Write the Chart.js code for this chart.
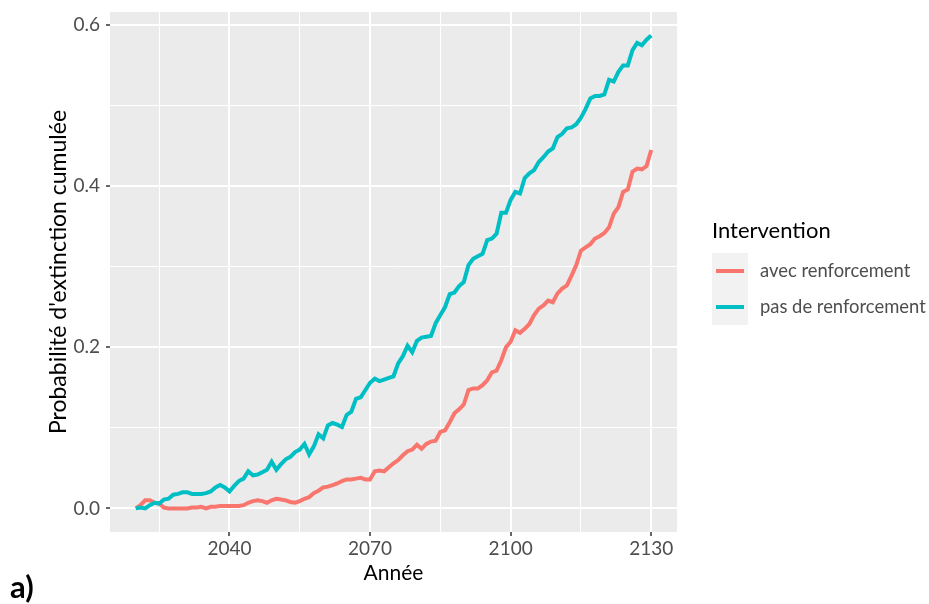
<!DOCTYPE html>
<html><head><meta charset="utf-8">
<script src="https://cdn.jsdelivr.net/npm/chart.js@4"></script>
<style>html,body{margin:0;padding:0;background:#fff}#wrap{width:929px;height:604px}</style>
</head><body><div id="wrap"><canvas id="c" width="929" height="604"></canvas></div>
<script>
const years = [2020,2021,2022,2023,2024,2025,2026,2027,2028,2029,
2030,2031,2032,2033,2034,2035,2036,2037,2038,2039,
2040,2041,2042,2043,2044,2045,2046,2047,2048,2049,
2050,2051,2052,2053,2054,2055,2056,2057,2058,2059,
2060,2061,2062,2063,2064,2065,2066,2067,2068,2069,
2070,2071,2072,2073,2074,2075,2076,2077,2078,2079,
2080,2081,2082,2083,2084,2085,2086,2087,2088,2089,
2090,2091,2092,2093,2094,2095,2096,2097,2098,2099,
2100,2101,2102,2103,2104,2105,2106,2107,2108,2109,
2110,2111,2112,2113,2114,2115,2116,2117,2118,2119,
2120,2121,2122,2123,2124,2125,2126,2127,2128,2129,2130];

const avecRenforcement = [0.000,0.004,0.010,0.010,0.007,0.006,0.001,0.000,0.000,0.000,
0.000,0.000,0.001,0.001,0.002,0.000,0.002,0.002,0.003,0.003,
0.003,0.003,0.003,0.004,0.007,0.009,0.010,0.009,0.007,0.010,
0.012,0.011,0.010,0.008,0.007,0.009,0.012,0.014,0.019,0.022,
0.026,0.027,0.029,0.031,0.034,0.036,0.036,0.037,0.038,0.036,
0.036,0.046,0.047,0.046,0.051,0.056,0.060,0.066,0.071,0.073,
0.079,0.074,0.080,0.083,0.084,0.095,0.097,0.107,0.118,0.123,
0.129,0.147,0.149,0.149,0.153,0.159,0.169,0.171,0.184,0.200,
0.207,0.221,0.218,0.223,0.229,0.240,0.248,0.252,0.258,0.256,
0.267,0.273,0.277,0.289,0.302,0.320,0.324,0.328,0.335,0.338,
0.342,0.349,0.366,0.374,0.393,0.396,0.418,0.422,0.421,0.425,0.445];

const pasDeRenforcement = [0.000,0.001,0.000,0.004,0.007,0.006,0.011,0.012,0.017,0.018,
0.020,0.020,0.018,0.018,0.018,0.019,0.021,0.026,0.029,0.026,
0.021,0.028,0.034,0.037,0.046,0.041,0.042,0.045,0.048,0.058,
0.048,0.055,0.061,0.064,0.070,0.073,0.080,0.067,0.077,0.092,
0.087,0.103,0.106,0.104,0.101,0.116,0.120,0.136,0.138,0.147,
0.156,0.161,0.158,0.160,0.162,0.164,0.180,0.189,0.202,0.194,
0.208,0.212,0.213,0.214,0.230,0.240,0.250,0.266,0.268,0.276,
0.281,0.302,0.310,0.313,0.316,0.333,0.335,0.341,0.367,0.367,
0.383,0.393,0.391,0.410,0.416,0.420,0.430,0.436,0.443,0.447,
0.461,0.465,0.472,0.473,0.477,0.485,0.496,0.509,0.512,0.512,
0.514,0.532,0.530,0.542,0.550,0.550,0.569,0.578,0.575,0.582,0.587];

const seriesLabels = ['avec renforcement', 'pas de renforcement'];
const xMajorTicks = [2040, 2070, 2100, 2130];
const xMinorTicks = [2025, 2055, 2085, 2115];
const yMajorTicks = [0, 0.2, 0.4, 0.6];
const yMinorTicks = [0.1, 0.3, 0.5];
const legendTitle = 'Intervention';
const xTitle = 'Année';
const yTitle = "Probabilité d'extinction cumulée";
const panelLabel = 'a)';

const FONT = 'Lato';
const RED = '#F8766D', TEAL = '#00BFC4';

const isMajor = (v, majors) => majors.some(m => Math.abs(m - v) < 1e-9);

const panelBg = {
  id: 'panelBg',
  beforeDraw(chart) {
    const {ctx, chartArea: a} = chart;
    ctx.save();
    ctx.fillStyle = '#EBEBEB';
    ctx.fillRect(a.left, a.top, a.right - a.left, a.bottom - a.top);
    ctx.restore();
  }
};

const customLegend = {
  id: 'customLegend',
  afterDraw(chart) {
    const ctx = chart.ctx;
    ctx.save();
    ctx.fillStyle = '#000';
    ctx.font = `22px ${FONT}`;
    ctx.textBaseline = 'middle';
    ctx.textAlign = 'left';
    ctx.fillText(legendTitle, 712, 231);
    ctx.fillStyle = '#F2F2F2';
    ctx.fillRect(712, 253, 36, 72);
    chart.data.datasets.forEach((ds, i) => {
      const yc = 271 + i * 36;
      ctx.strokeStyle = ds.borderColor;
      ctx.lineWidth = 4;
      ctx.beginPath();
      ctx.moveTo(716, yc);
      ctx.lineTo(744, yc);
      ctx.stroke();
      ctx.fillStyle = '#4D4D4D';
      ctx.font = `18.4px ${FONT}`;
      ctx.fillText(ds.label, 760, yc);
    });
    ctx.fillStyle = '#000';
    ctx.font = `bold 31px ${FONT}`;
    ctx.textBaseline = 'alphabetic';
    ctx.fillText(panelLabel, 10, 598);
    ctx.restore();
  }
};

const mkData = arr => years.map((yr, i) => ({x: yr, y: arr[i]}));

new Chart(document.getElementById('c'), {
  type: 'line',
  data: {
    datasets: [
      {label: seriesLabels[0], data: mkData(avecRenforcement), borderColor: RED, backgroundColor: RED, borderWidth: 4, pointRadius: 0, tension: 0, order: 1},
      {label: seriesLabels[1], data: mkData(pasDeRenforcement), borderColor: TEAL, backgroundColor: TEAL, borderWidth: 4, pointRadius: 0, tension: 0, order: 0}
    ]
  },
  options: {
    responsive: false,
    animation: false,
    devicePixelRatio: 1,
    layout: {padding: {left: 0, right: 252, top: 12, bottom: 0}},
    plugins: {legend: {display: false}, tooltip: {enabled: false}},
    scales: {
      x: {
        type: 'linear',
        min: 2014.5, max: 2135.5,
        afterBuildTicks: s => { s.ticks = [...xMinorTicks, ...xMajorTicks].sort((a,b)=>a-b).map(v => ({value: v})); },
        afterFit: s => { s.height = 72; s.paddingLeft = 0; s.paddingRight = 0; },
        ticks: {
          autoSkip: false, maxRotation: 0, padding: 1,
          color: '#4D4D4D', font: {family: FONT, size: 19},
          callback: v => isMajor(v, xMajorTicks) ? String(v) : ''
        },
        grid: {
          color: '#FFFFFF',
          lineWidth: c => isMajor(c.tick.value, xMajorTicks) ? 2 : 1,
          tickColor: c => isMajor(c.tick.value, xMajorTicks) ? '#333333' : 'rgba(0,0,0,0)',
          tickLength: 4, tickWidth: 1.5
        },
        border: {display: false},
        title: {display: true, text: xTitle, color: '#000', font: {family: FONT, size: 21}, padding: {top: 0, bottom: 18}}
      },
      y: {
        type: 'linear',
        min: -0.0293, max: 0.6163,
        afterBuildTicks: s => { s.ticks = [...yMajorTicks, ...yMinorTicks].sort((a,b)=>a-b).map(v => ({value: v})); },
        afterFit: s => { s.width = 110; s.paddingTop = 0; s.paddingBottom = 0; },
        ticks: {
          autoSkip: false, padding: 6,
          color: '#4D4D4D', font: {family: FONT, size: 19},
          callback: v => isMajor(v, yMajorTicks) ? v.toFixed(1) : ''
        },
        grid: {
          color: '#FFFFFF',
          lineWidth: c => isMajor(c.tick.value, yMajorTicks) ? 2 : 1,
          tickColor: c => isMajor(c.tick.value, yMajorTicks) ? '#333333' : 'rgba(0,0,0,0)',
          tickLength: 4, tickWidth: 1.5
        },
        border: {display: false},
        title: {display: true, text: yTitle, color: '#000', font: {family: FONT, size: 23}, padding: {top: 45, bottom: 0}}
      }
    }
  },
  plugins: [panelBg, customLegend]
});
</script></body></html>
